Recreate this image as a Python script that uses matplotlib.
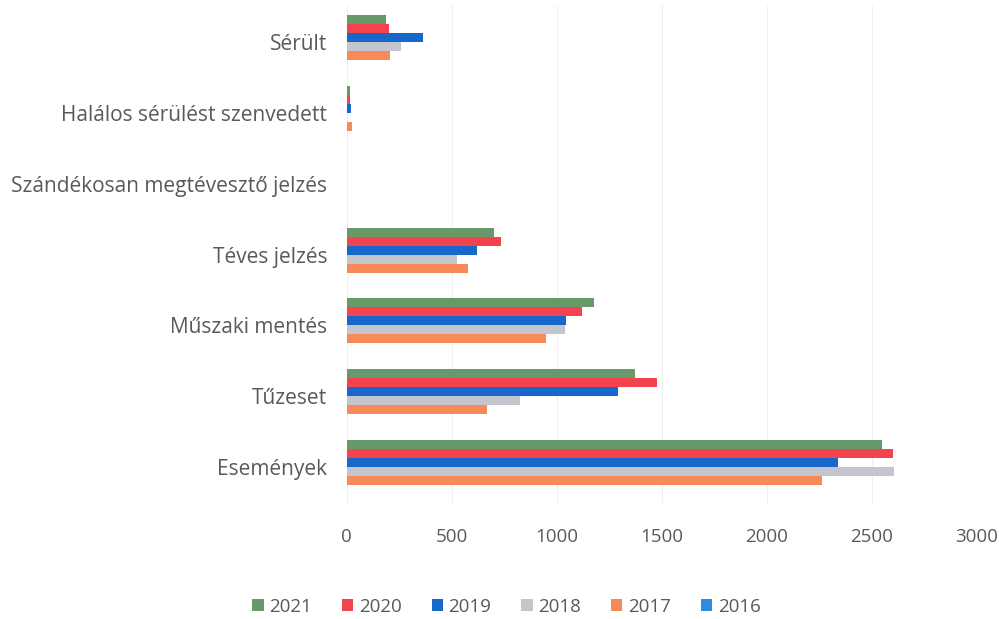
import matplotlib
matplotlib.use("Agg")
import matplotlib.pyplot as plt
import numpy as np

categories = ["Események", "Tűzeset", "Műszaki mentés", "Téves jelzés",
              "Szándékosan megtévesztő jelzés", "Halálos sérülést szenvedett", "Sérült"]
years = ["2021", "2020", "2019", "2018", "2017", "2016"]
v2021 = [2550, 1370, 1175, 700, 0, 15, 186]
v2020 = [2600, 1475, 1120, 735, 0, 18, 200]
v2019 = [2340, 1290, 1045, 620, 0, 20, 365]
v2018 = [2605, 825, 1040, 525, 0, 3, 260]
v2017 = [2262, 667, 948, 578, 0, 25, 208]
v2016 = [0, 0, 0, 0, 0, 0, 0]
series = [v2021, v2020, v2019, v2018, v2017, v2016]
colors = ["#68996a", "#f2434f", "#1868cc", "#c3c6cd", "#f78a58", "#2b8de0"]

plt.rcParams['font.family'] = ['Open Sans', 'DejaVu Sans']
fig = plt.figure(figsize=(9.99, 6.19), dpi=100)
ax = fig.add_axes([0.347, 0.188, 0.631, 0.8015])

n = len(series)
h = 0.127
y = np.arange(len(categories))
for i, (vals, c, lab) in enumerate(zip(series, colors, years)):
    offs = (n - 1) / 2 * h - i * h
    ax.barh(y + offs, vals, height=h, color=c, label=lab)

ax.set_xlim(0, 3000)
ax.set_ylim(-0.5, len(categories) - 0.5)
ax.set_xticks(np.arange(0, 3001, 500))
ax.set_yticks(y)
ax.set_yticklabels(categories)
for s in ax.spines.values():
    s.set_visible(False)
ax.tick_params(axis='both', length=0, colors='#595959')
ax.tick_params(axis='x', pad=18, labelsize=13.5)
ax.tick_params(axis='y', pad=14, labelsize=15)
ax.grid(axis='x', color='#eeeeee', linewidth=0.8)
ax.set_axisbelow(True)

leg = fig.legend(loc='center', bbox_to_anchor=(0.507, 0.02), ncol=6, frameon=False,
                 fontsize=13.5, handlelength=0.6, handleheight=0.6, columnspacing=1.6,
                 handletextpad=0.3, labelcolor='#595959')
fig.savefig("out.png", dpi=100)
